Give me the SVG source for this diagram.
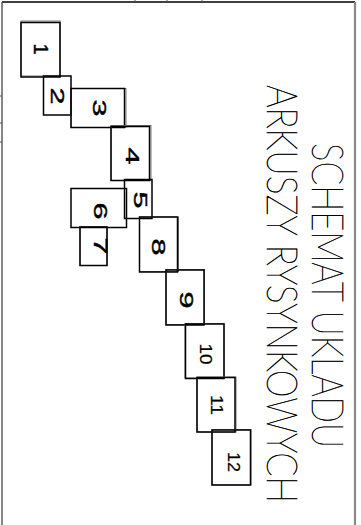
<svg xmlns="http://www.w3.org/2000/svg" width="361" height="525" viewBox="0 0 361 525">
<style>
.b{fill:none;stroke:#000;stroke-width:1.5}
.g{fill:none;stroke:#777;stroke-width:1}
.n{font-family:"Liberation Sans",Arial,sans-serif;font-size:18px;text-anchor:middle;dominant-baseline:central;fill:#000;stroke:#000;stroke-width:0.4}
.m{font-size:16px;stroke-width:0.2}
.t{font-family:Lato,"Liberation Sans",sans-serif;font-weight:100;font-size:43px;fill:#000;stroke:#000;stroke-width:0.5}
.s{font-size:36px}
</style>
<rect width="361" height="525" fill="#fff"/>
<g id="frame">
<line x1="2" y1="2" x2="355" y2="2" stroke="#000" stroke-width="1.3"/>
<line x1="2" y1="2" x2="2" y2="525" stroke="#444" stroke-width="1.3"/>
<line x1="355" y1="2" x2="355" y2="525" stroke="#888" stroke-width="2.2"/>
<path d="M135 0v2M167 0v2M202 0v2M0 96h2M0 123h2M0 142h2" stroke="#555" stroke-width="1"/>
</g>
<g id="n1"><rect class="g" x="21" y="21" width="39" height="55"/><rect class="b" x="21" y="22.5" width="39" height="54.5"/><text class="n" transform="translate(41,49) rotate(90)" style="font-size:20px">1</text></g>
<g id="n2"><rect class="b" x="43.5" y="76" width="27.5" height="39"/><text class="n" transform="translate(57,96) rotate(90)" textLength="17" lengthAdjust="spacingAndGlyphs">2</text></g>
<g id="n3"><rect class="g" x="71" y="88.5" width="55" height="39"/><rect class="b" x="71" y="88.5" width="53.5" height="39"/><text class="n" transform="translate(98.5,108) rotate(90)" textLength="17" lengthAdjust="spacingAndGlyphs">3</text></g>
<g id="n4"><rect class="g" x="111" y="125.5" width="40" height="55"/><rect class="b" x="111" y="126.5" width="38.5" height="54"/><text class="n" transform="translate(132,156) rotate(90)" textLength="17" lengthAdjust="spacingAndGlyphs">4</text></g>
<g id="n5"><rect class="b" x="124.5" y="179.5" width="27.5" height="39"/><text class="n" transform="translate(140,200) rotate(90)" textLength="17" lengthAdjust="spacingAndGlyphs">5</text></g>
<g id="n6"><rect class="b" x="71" y="188.5" width="55.5" height="39"/><text class="n" transform="translate(100,211) rotate(90)" textLength="17" lengthAdjust="spacingAndGlyphs">6</text></g>
<g id="n7"><rect class="g" x="80" y="226.5" width="27" height="39"/><rect class="b" x="80" y="227" width="27" height="38.5"/><text class="n" transform="translate(100,246) rotate(90)" textLength="17" lengthAdjust="spacingAndGlyphs">7</text></g>
<g id="n8"><rect class="g" x="139.5" y="217" width="39" height="54.5"/><rect class="b" x="139.5" y="217" width="38" height="55"/><text class="n" transform="translate(158,247) rotate(90)" textLength="17" lengthAdjust="spacingAndGlyphs">8</text></g>
<g id="n9"><rect class="g" x="166" y="269.5" width="38.5" height="55"/><rect class="b" x="166" y="270" width="38" height="55"/><text class="n" transform="translate(186,300) rotate(90)" textLength="17" lengthAdjust="spacingAndGlyphs">9</text></g>
<g id="n10"><rect class="g" x="185" y="323.5" width="39" height="54.5"/><rect class="b" x="185.5" y="324" width="38.5" height="54.5"/><text class="n m" transform="translate(205,354) rotate(90)" textLength="21" lengthAdjust="spacingAndGlyphs">10</text></g>
<g id="n11"><rect class="g" x="197" y="377" width="39" height="55"/><rect class="b" x="197" y="377.5" width="38" height="54.5"/><text class="n m" transform="translate(216,405) rotate(90)" textLength="20" lengthAdjust="spacingAndGlyphs">11</text></g>
<g id="n12"><rect class="g" x="212" y="429.5" width="39" height="55.5"/><rect class="b" x="212" y="430" width="38.5" height="55"/><text class="n m" transform="translate(233,462) rotate(90)" textLength="20" lengthAdjust="spacingAndGlyphs">12</text></g>
<g id="title">
<text class="t" transform="translate(312,143) rotate(90)" textLength="305" lengthAdjust="spacingAndGlyphs">SCHEMAT UKLADU</text>
<text class="t s" transform="translate(267,85) rotate(90) scale(1,1.19)" textLength="418" lengthAdjust="spacingAndGlyphs">ARKUSZY RYSYNKOWYCH</text>
</g>
<g id="connectors"></g>
</svg>
